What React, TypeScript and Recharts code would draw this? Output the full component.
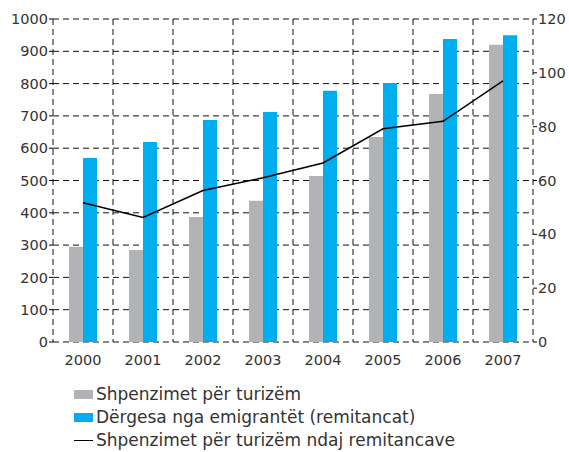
import React from 'react';
import { ComposedChart, Bar, Line, XAxis, YAxis, CartesianGrid, Legend } from 'recharts';

const years = ['2000', '2001', '2002', '2003', '2004', '2005', '2006', '2007'];
const tourism = [295, 285, 387, 437, 514, 635, 768, 920];
const remittances = [570, 619, 687, 712, 778, 802, 938, 950];
const ratio = [51.7, 46.3, 56.3, 61, 66.5, 79.2, 82, 97];
const leftTicks = [0, 100, 200, 300, 400, 500, 600, 700, 800, 900, 1000];
const rightTicks = [0, 20, 40, 60, 80, 100, 120];

const seriesNames = {
  tourism: 'Shpenzimet për turizëm',
  remittances: 'Dërgesa nga emigrantët (remitancat)',
  ratio: 'Shpenzimet për turizëm ndaj remitancave',
};

const data = years.map((y, i) => ({
  year: y,
  tourism: tourism[i],
  remittances: remittances[i],
  ratio: ratio[i],
}));

const GRAY = '#b1b3b6';
const BLUE = '#00adef';
const TEXT = '#333333';
const FONT = '"DejaVu Sans", sans-serif';

// vertical grid lines at category boundaries
const boundaryLines = ({ offset }: any) =>
  Array.from({ length: years.length + 1 }, (_, i) => offset.left + (i * offset.width) / years.length);

const LegendContent = () => {
  const row: React.CSSProperties = {
    display: 'flex',
    alignItems: 'center',
    height: 23,
    lineHeight: '23px',
    fontSize: 17,
    color: TEXT,
    fontFamily: FONT,
    whiteSpace: 'nowrap',
  };
  return (
    <div style={{ paddingLeft: 74, height: 69 }}>
      <div style={row}>
        <span style={{ display: 'inline-block', width: 19, height: 9, background: GRAY, marginRight: 3 }} />
        {seriesNames.tourism}
      </div>
      <div style={row}>
        <span style={{ display: 'inline-block', width: 19, height: 9, background: BLUE, marginRight: 3 }} />
        {seriesNames.remittances}
      </div>
      <div style={row}>
        <span style={{ display: 'inline-block', width: 19, height: 1.5, background: '#000', marginRight: 3 }} />
        {seriesNames.ratio}
      </div>
    </div>
  );
};

export default function App() {
  return (
    <div style={{ position: 'absolute', left: 0, top: 0 }}>
      <ComposedChart
        width={569}
        height={452}
        data={data}
        margin={{ top: 19, right: 0, left: 0, bottom: 0 }}
        barGap={0}
        style={{ fontFamily: FONT }}
      >
        <CartesianGrid
          yAxisId="left"
          stroke="#111"
          strokeDasharray="6 4"
          verticalCoordinatesGenerator={boundaryLines}
        />
        <XAxis
          dataKey="year"
          height={41}
          axisLine={false}
          tickLine={false}
          tickMargin={7}
          tick={{ fill: TEXT, fontSize: 14.5 }}
          interval={0}
        />
        <YAxis
          yAxisId="left"
          width={53}
          domain={[0, 1000]}
          ticks={leftTicks}
          axisLine={false}
          tickLine={{ stroke: '#000' }}
          tickSize={4}
          tickMargin={1}
          tick={{ fill: TEXT, fontSize: 14.5 }}
          interval={0}
        />
        <YAxis
          yAxisId="right"
          orientation="right"
          width={36}
          domain={[0, 120]}
          ticks={rightTicks}
          axisLine={false}
          tickLine={{ stroke: '#000' }}
          tickSize={4}
          tickMargin={1}
          tick={{ fill: TEXT, fontSize: 14.5 }}
          interval={0}
        />
        <Bar yAxisId="left" dataKey="tourism" name={seriesNames.tourism} fill={GRAY} barSize={14} isAnimationActive={false} />
        <Bar yAxisId="left" dataKey="remittances" name={seriesNames.remittances} fill={BLUE} barSize={14} isAnimationActive={false} />
        <Line yAxisId="right" dataKey="ratio" name={seriesNames.ratio} stroke="#000" strokeWidth={1.5} dot={false} type="linear" isAnimationActive={false} />
        <Legend verticalAlign="bottom" align="left" content={<LegendContent />} />
      </ComposedChart>
    </div>
  );
}
